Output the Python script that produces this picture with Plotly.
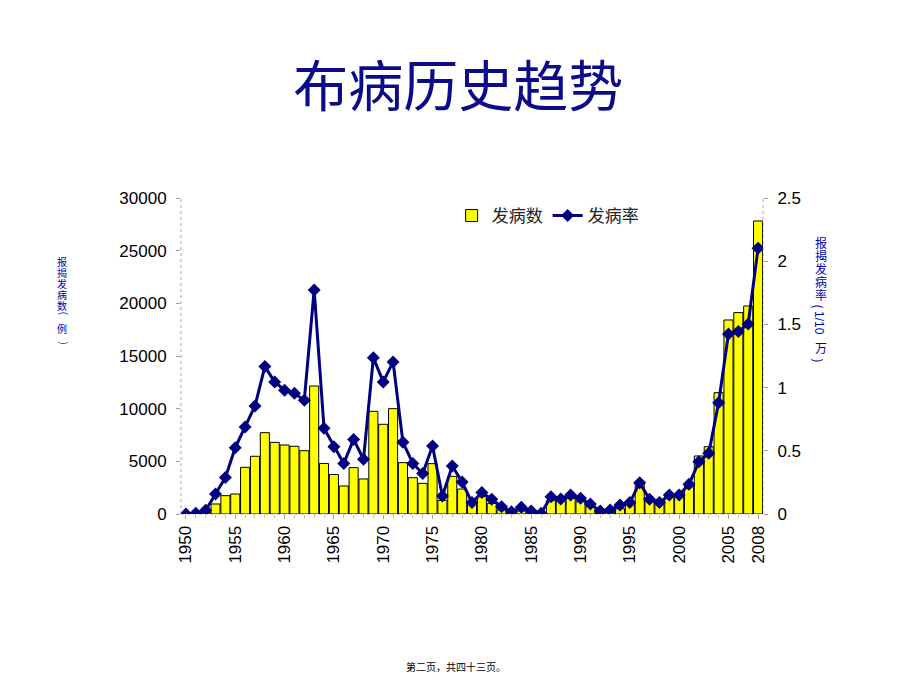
import plotly.graph_objects as go

# 年份
years = list(range(1950, 2009))

# 报告发病数（例）
cases = [
    0, 0, 200, 950, 1740, 1900, 4430, 5480, 7720, 6800,
    6550, 6430, 6010, 12150, 4800, 3750, 2660, 4400, 3325, 9750,
    8515, 10000, 4875, 3450, 2910, 4780, 1300, 3575, 2370, 1000,
    1650, 1010, 380, 100, 285, 100, 50, 1270, 1270, 1490,
    1170, 700, 150, 200, 500, 950, 3070, 1490, 1010, 1900,
    1900, 2910, 5510, 6390, 11520, 18420, 19120, 19750, 27820,
]

# 报告发病率（1/10万）
rates = [
    0, 0.005, 0.03, 0.158, 0.288, 0.525, 0.689, 0.855, 1.166, 1.045,
    0.98, 0.955, 0.90, 1.773, 0.678, 0.533, 0.40, 0.59, 0.433, 1.237,
    1.045, 1.203, 0.567, 0.40, 0.32, 0.538, 0.142, 0.38, 0.253, 0.09,
    0.17, 0.116, 0.058, 0.018, 0.053, 0.024, 0.005, 0.137, 0.119, 0.15,
    0.124, 0.079, 0.024, 0.032, 0.071, 0.09, 0.248, 0.116, 0.09, 0.15,
    0.15, 0.235, 0.414, 0.48, 0.88, 1.425, 1.443, 1.504, 2.103,
]

x_ticks = [1950, 1955, 1960, 1965, 1970, 1975, 1980, 1985, 1990, 1995, 2000, 2005, 2008]

NAVY = "#000080"
TXT_BLUE = "#0000B0"
CJK = "Noto Sans CJK SC"
LAT = "Liberation Sans, Arial"

fig = go.Figure()

# 柱状图：发病数
fig.add_trace(go.Bar(
    x=years, y=cases, name="发病数",
    marker=dict(color="#FFFF00", line=dict(color="black", width=1)),
    yaxis="y",
))

# 折线：发病率（右轴）
fig.add_trace(go.Scatter(
    x=years, y=rates, name="发病率", mode="lines+markers",
    line=dict(color=NAVY, width=3),
    marker=dict(symbol="diamond", size=10, color=NAVY),
    yaxis="y2",
))

fig.update_layout(
    width=920, height=689,
    margin=dict(l=181, r=157, t=198, b=175),
    paper_bgcolor="white", plot_bgcolor="white",
    bargap=0.08,
    showlegend=True,
    legend=dict(
        orientation="h", x=0.465, y=1.0, xanchor="left", yanchor="top",
        font=dict(family=CJK, size=17, color="#222222"),
        bgcolor="rgba(0,0,0,0)",
    ),
    title=dict(
        text="布病历史趋势", x=0.498, xanchor="center", y=0.874, yanchor="middle",
        font=dict(family=CJK, size=55, color="#0C0C8A"),
    ),
    xaxis=dict(
        range=[1949.5, 2008.5], tickvals=x_ticks, tickangle=-90,
        showgrid=False, zeroline=False, showline=False,
        ticks="outside", ticklen=4, tickcolor="#A0A0A0",
        minor=dict(dtick=1, ticks="outside", ticklen=3, tickcolor="#C0C0C0"),
        tickfont=dict(family=LAT, size=17, color="black"),
    ),
    yaxis=dict(
        range=[0, 30000], dtick=5000, tickformat="d",
        showgrid=False, zeroline=False, showline=False,
        ticks="outside", ticklen=4, tickcolor="#A0A0A0",
        tickfont=dict(family=LAT, size=17, color="black"),
        ticklabelstandoff=6,
    ),
    yaxis2=dict(
        range=[0, 2.5], dtick=0.5, overlaying="y", side="right",
        showgrid=False, zeroline=False, showline=False,
        ticks="outside", ticklen=4, tickcolor="#A0A0A0",
        tickfont=dict(family=LAT, size=17, color="black"),
        ticklabelstandoff=6,
    ),
)

# 虚线坐标轴
for x0, y0, x1, y1 in [(0, 0, 0, 1), (1, 0, 1, 1), (0, 0, 1, 0)]:
    fig.add_shape(type="line", xref="paper", yref="paper",
                  x0=x0, y0=y0, x1=x1, y1=y1,
                  line=dict(color="#A8A8A8", width=1, dash="dot"), layer="below")


def px_y(py):
    # 像素纵坐标 -> paper 坐标
    return (514 - py) / 316


def px_x(px):
    return (px - 181) / 582


def vtext(chars, px, ys, size):
    # 竖排文字，每个字单独放置；括号旋转 90 度
    for ch, py in zip(chars, ys):
        ang = 90 if ch in "()" else 0
        fig.add_annotation(text=ch, xref="paper", yref="paper",
                           x=px_x(px), y=px_y(py), showarrow=False, textangle=ang,
                           borderpad=0,
                           font=dict(family=CJK, size=size, color=TXT_BLUE))


# 左侧纵轴标题（竖排）
left_chars = ["报", "揭", "发", "病", "数", "(", "例", ")"]
left_ys = [253, 264, 275, 286, 297, 313, 328, 343]
vtext(left_chars, 56, left_ys, 10)

# 右侧纵轴标题（竖排）
right_chars = ["报", "揭", "发", "病", "率", "(", "万", ")"]
right_ys = [233, 246, 259, 272, 285, 303, 347, 360]
vtext(right_chars, 828, right_ys, 12)
fig.add_annotation(text="1/10", xref="paper", yref="paper",
                   x=px_x(828), y=px_y(323), showarrow=False, textangle=90,
                   font=dict(family=LAT, size=12, color=TXT_BLUE))

# 页脚
fig.add_annotation(text="第二页，共四十三页。", xref="paper", yref="paper",
                   x=px_x(456), y=px_y(676), showarrow=False,
                   font=dict(family=CJK, size=10, color="black"))

fig.write_html("out.html", config={"displayModeBar": False},
               post_script="document.body.style.margin='0';")
